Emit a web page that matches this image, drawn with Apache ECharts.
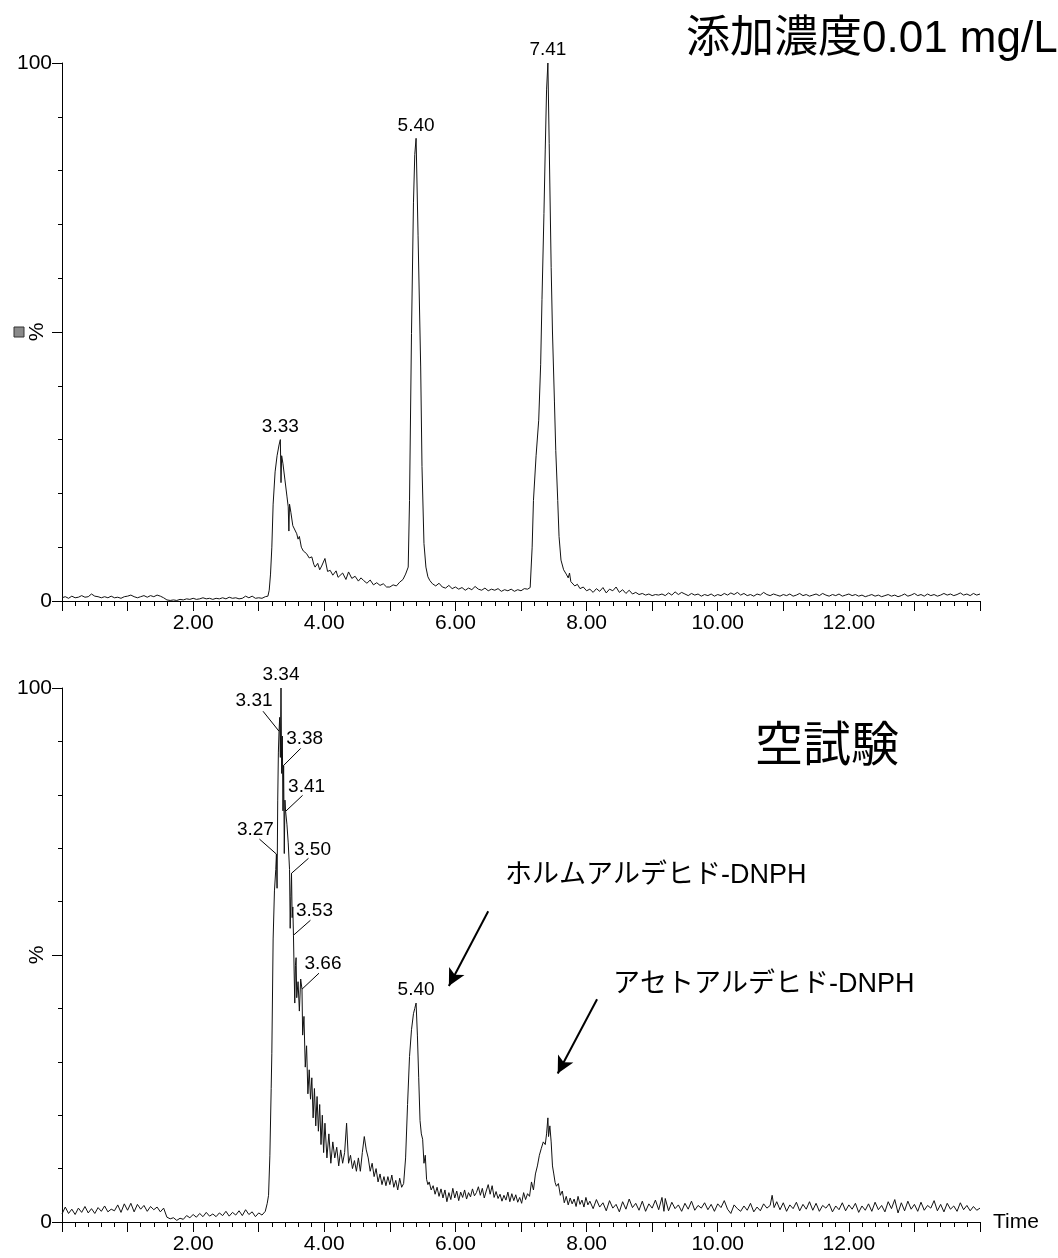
<!DOCTYPE html>
<html><head><meta charset="utf-8">
<script src="https://cdn.jsdelivr.net/npm/echarts@6/dist/echarts.min.js"></script>
<style>html,body{margin:0;padding:0;background:#fff}#c{width:1058px;height:1258px}</style>
</head><body><div id="c"></div>
<script>
// ---------- data (time in min, intensity in %) ----------
const topTrace = [
[0.00,0.6],[0.05,0.8],[0.10,0.5],[0.15,0.9],[0.20,0.6],[0.25,0.7],[0.30,1.0],[0.35,0.7],[0.40,0.8],[0.45,1.3],[0.50,0.9],[0.55,0.8],[0.60,0.6],[0.65,0.8],[0.70,0.6],[0.75,0.9],[0.80,0.6],[0.85,0.7],[0.90,0.5],[0.95,0.8],[1.00,0.9],[1.05,1.1],[1.10,0.8],[1.15,0.6],[1.20,0.8],[1.25,1.0],[1.30,0.7],[1.35,1.0],[1.40,0.8],[1.45,1.1],[1.50,0.9],[1.55,0.6],[1.60,0.2],[1.65,0.1],[1.70,0.2],[1.75,0.1],[1.80,0.3],[1.85,0.2],[1.90,0.4],[1.95,0.3],[2.00,0.5],[2.05,0.3],[2.10,0.4],[2.15,0.6],[2.20,0.4],[2.25,0.5],[2.30,0.3],[2.35,0.5],[2.40,0.4],[2.45,0.6],[2.50,0.4],[2.55,0.7],[2.60,0.5],[2.65,0.6],[2.70,0.4],[2.75,0.5],[2.80,0.9],[2.85,0.6],[2.90,0.9],[2.95,0.5],[3.00,0.6],[3.05,0.5],[3.10,0.8],
[3.14,0.9],[3.16,2],[3.18,5],[3.20,10],[3.22,18],[3.25,24],[3.28,27],[3.31,29],[3.33,30],[3.34,22],[3.35,27],[3.37,25.5],[3.40,22.5],[3.43,19.5],[3.45,17.5],[3.46,13],[3.47,18],[3.49,16.5],[3.52,14],[3.55,13.8],[3.58,12.5],[3.60,11.5],[3.62,12],[3.65,10],[3.68,9.3],[3.70,9],[3.73,8.8],[3.77,8],[3.81,8.2],[3.84,6.8],[3.86,6.3],[3.90,7],[3.93,5.8],[3.96,6.5],[4.01,7.9],[4.05,5.5],[4.09,5.7],[4.13,4.8],[4.18,5.6],[4.21,4.4],[4.24,4.5],[4.28,5.2],[4.33,4.0],[4.37,5.4],[4.42,4.2],[4.47,4.6],[4.52,3.7],[4.56,4.3],[4.60,3.8],[4.65,3.3],[4.70,3.9],[4.75,3.0],[4.80,3.4],[4.85,2.9],[4.90,3.2],[4.95,2.6],[5.00,2.6],[5.05,3.0],[5.10,2.8],[5.15,3.5],[5.20,4.0],[5.24,5.0],[5.28,6.3],[5.30,18.7],[5.33,49.7],[5.36,74],[5.38,83],[5.40,86],[5.43,68],[5.47,43.5],[5.49,25],[5.52,10.7],[5.55,6.3],[5.58,4.5],[5.61,3.8],[5.65,3.2],[5.70,2.8],[5.75,3.3],[5.80,2.6],[5.85,2.4],[5.90,2.9],[5.95,2.3],[6.00,2.6],[6.05,2.2],[6.10,2.5],[6.15,2.0],[6.20,2.4],[6.25,2.1],[6.30,2.7],[6.35,2.2],[6.40,2.0],[6.45,2.4],[6.50,1.9],[6.55,2.2],[6.60,2.0],[6.65,2.3],[6.70,1.8],[6.75,2.1],[6.80,1.9],[6.85,2.2],[6.90,1.8],[6.95,2.1],[7.00,1.9],[7.05,2.3],[7.10,2.2],
[7.14,2.5],[7.17,10],[7.19,18.7],[7.23,27],[7.27,33.6],[7.30,44],[7.32,56],[7.35,72],[7.37,84],[7.39,95],[7.41,100],[7.43,85],[7.46,62],[7.48,50],[7.51,37],[7.53,28],[7.56,18.7],[7.58,12],[7.61,7.6],[7.65,5.8],[7.69,5],[7.72,4.3],[7.74,5.2],[7.76,3.6],[7.79,3.8],[7.82,2.8],[7.86,3.1],[7.90,2.3],[7.95,2.6],[8.00,1.9],[8.05,2.2],
[8.10,1.6],[8.15,2.3],[8.20,1.8],[8.25,2.5],[8.30,1.5],[8.35,2.2],[8.40,1.9],[8.45,2.6],[8.50,1.6],[8.55,2.1],[8.60,1.4],[8.65,2.0],[8.70,1.3],[8.75,1.6],[8.80,1.2],[8.85,1.4],[8.90,1.1],[8.95,1.3],[9.00,1.0],[9.05,1.2],[9.10,1.1],[9.15,1.3],[9.20,1.0],[9.25,1.5],[9.30,1.1],[9.35,1.7],[9.40,1.2],[9.45,1.6],[9.50,1.3],[9.55,1.0],[9.60,1.4],[9.65,1.1],[9.70,1.3],[9.75,0.9],[9.80,1.2],[9.85,1.0],[9.90,1.3],[9.95,0.9],[10.00,1.2],[10.05,1.0],[10.10,1.4],[10.15,1.1],[10.20,1.5],[10.25,1.2],[10.30,1.6],[10.35,1.1],[10.40,1.4],[10.45,1.0],[10.50,1.2],[10.55,0.9],[10.60,1.3],[10.65,1.1],[10.70,1.6],[10.75,1.2],[10.80,1.0],[10.85,1.3],[10.90,1.1],[10.95,0.9],[11.00,1.2],[11.05,1.0],[11.10,1.3],[11.15,0.9],[11.20,1.1],[11.25,1.4],[11.30,1.0],[11.35,1.2],[11.40,0.9],[11.45,1.1],[11.50,1.3],[11.55,1.0],[11.60,1.4],[11.65,1.1],[11.70,0.9],[11.75,1.2],[11.80,1.0],[11.85,1.3],[11.90,0.9],[11.95,1.1],[12.00,1.3],[12.05,1.0],[12.10,1.2],[12.15,0.9],[12.20,1.1],[12.25,0.8],[12.30,1.0],[12.35,1.2],[12.40,0.9],[12.45,1.1],[12.50,0.8],[12.55,1.0],[12.60,1.2],[12.65,0.9],[12.70,1.1],[12.75,0.8],[12.80,1.0],[12.85,1.3],[12.90,0.9],[12.95,1.1],[13.00,1.4],[13.05,1.0],[13.10,1.2],[13.15,0.9],[13.20,1.3],[13.25,1.0],[13.30,1.2],[13.35,0.9],[13.40,1.1],[13.45,1.4],[13.50,1.1],[13.55,1.3],[13.60,1.0],[13.65,1.2],[13.70,1.5],[13.75,1.1],[13.80,1.3],[13.85,1.0],[13.90,1.4],[13.95,1.1],[14.00,1.3]
];

const bottomTrace = [
[0.00,1.5],[0.05,2.8],[0.10,1.6],[0.15,2.4],[0.20,1.4],[0.25,2.6],[0.30,1.8],[0.35,2.9],[0.40,1.7],[0.45,2.5],[0.50,1.6],[0.55,2.7],[0.60,2.0],[0.65,3.0],[0.70,1.9],[0.75,2.4],[0.80,2.1],[0.85,3.2],[0.90,1.8],[0.95,3.4],[1.00,2.2],[1.05,3.5],[1.10,1.9],[1.15,3.3],[1.20,2.4],[1.25,3.1],[1.30,2.0],[1.35,2.9],[1.40,2.3],[1.45,2.8],[1.50,1.9],[1.55,2.6],[1.60,0.9],[1.65,0.6],[1.70,0.8],[1.75,0.3],[1.80,0.7],[1.85,0.5],[1.90,1.2],[1.95,0.8],[2.00,1.4],[2.05,0.9],[2.10,1.6],[2.15,1.0],[2.20,1.8],[2.25,1.1],[2.30,1.5],[2.35,1.0],[2.40,1.7],[2.45,1.2],[2.50,2.0],[2.55,1.1],[2.60,1.8],[2.65,1.3],[2.70,2.1],[2.75,1.2],[2.80,2.3],[2.85,1.4],[2.90,1.9],[2.95,1.0],[3.00,1.7],[3.05,1.3],[3.10,2.0],
[3.13,3.5],[3.15,5],[3.17,12.4],[3.19,25],[3.20,31.6],[3.22,53],[3.24,62],[3.26,66],[3.27,68.9],[3.28,62.5],[3.29,79],[3.30,88],[3.31,91.9],[3.32,94.5],[3.33,87],[3.34,100],[3.35,84],[3.36,91],[3.37,77],[3.38,85.5],[3.39,69],[3.40,79],[3.41,76.9],[3.43,74.5],[3.45,71],[3.47,66],[3.48,55],[3.49,61],[3.50,65.3],[3.51,57],[3.52,59],[3.53,53.7],[3.54,47],[3.55,41],[3.56,48],[3.57,49.5],[3.58,42],[3.60,45],[3.62,39.5],[3.64,45.5],[3.66,43.6],[3.67,35],[3.69,38.5],[3.71,29],[3.73,33],[3.75,24],[3.77,28.5],[3.79,23],[3.81,27],[3.83,19.5],[3.85,25],[3.87,18],[3.89,23.5],[3.91,17],[3.93,22],[3.95,14.5],[3.97,20],[3.99,13],[4.01,18.5],[4.04,12],[4.07,16.5],[4.10,11],[4.13,15],[4.16,12],[4.19,14],[4.22,10.5],[4.25,13.5],[4.28,11],[4.31,13],[4.34,18.5],[4.37,11],[4.40,12.5],[4.43,10],[4.46,11.5],[4.49,9.5],[4.52,12],[4.55,9.5],[4.58,13],[4.61,16],[4.64,13.5],[4.67,12],[4.70,9.5],[4.73,11],[4.76,8.5],[4.79,10],[4.82,7.5],[4.85,9],[4.88,7],[4.91,8.5],[4.94,6.8],[4.97,8.5],[5.00,7],[5.03,8.8],[5.06,6.5],[5.09,7.8],[5.12,6],[5.15,8.2],[5.18,6.5],[5.21,7.2],
[5.24,12],[5.27,22],[5.30,31],[5.33,36],[5.36,39],[5.38,40],[5.40,41],[5.42,35],[5.44,27],[5.46,19],[5.48,16.5],[5.50,15.5],[5.52,11],[5.54,12.5],[5.56,8],[5.58,7],
[5.60,7.5],[5.63,6],[5.66,6.8],[5.69,5.2],[5.72,6.5],[5.75,4.8],[5.78,6.2],[5.81,4.5],[5.84,6],[5.87,3.8],[5.90,5.5],[5.93,4.2],[5.96,6.3],[5.99,4.5],[6.02,5.8],[6.05,4.0],[6.08,5.6],[6.11,4.6],[6.14,6.0],[6.17,4.3],[6.20,5.5],[6.23,4.7],[6.26,6.2],[6.29,4.9],[6.32,5.5],[6.35,6.6],[6.38,5.0],[6.41,6.3],[6.44,4.5],[6.47,5.8],[6.50,7.0],[6.53,5.2],[6.56,6.8],[6.59,4.6],[6.62,5.7],[6.65,4.4],[6.68,5.2],[6.71,3.9],[6.74,5.0],[6.77,4.1],[6.80,5.6],[6.83,3.8],[6.86,5.3],[6.89,4.0],[6.92,5.1],[6.95,3.7],[6.98,4.6],[7.01,3.5],[7.04,5.5],[7.07,4.2],[7.10,5.3],[7.13,4.8],
[7.16,7.5],[7.19,6],[7.22,9],[7.25,10.5],[7.28,12.5],[7.31,13.8],[7.34,15],[7.37,14.5],[7.39,16.5],[7.41,19.5],[7.42,16],[7.44,18],[7.46,15],[7.48,10.5],[7.50,9],[7.52,7.4],[7.54,6.7],[7.57,7.2],[7.60,5.0],[7.63,5.8],[7.66,3.6],[7.69,4.8],[7.72,3.2],[7.75,4.5],[7.78,3.4],[7.81,4.3],[7.84,2.9],[7.87,4.8],[7.90,3.3],[7.93,4.1],[7.96,2.8],[7.99,4.6],[8.02,3.2],
[8.05,3.9],[8.10,2.5],[8.15,4.2],[8.20,2.8],[8.25,3.6],[8.30,2.1],[8.35,4.0],[8.40,2.6],[8.45,3.3],[8.50,1.9],[8.55,3.8],[8.60,2.4],[8.65,4.3],[8.70,2.7],[8.75,3.5],[8.80,2.2],[8.85,3.9],[8.90,2.0],[8.95,3.4],[9.00,2.6],[9.05,4.1],[9.10,2.3],[9.15,4.6],[9.18,2.0],[9.20,4.4],[9.25,2.1],[9.30,3.7],[9.35,2.5],[9.40,3.2],[9.45,2.0],[9.50,3.5],[9.55,2.4],[9.60,3.9],[9.65,2.2],[9.70,3.1],[9.75,2.6],[9.80,3.6],[9.85,2.3],[9.90,3.3],[9.95,2.0],[10.00,3.4],[10.05,2.7],[10.10,4.0],[10.15,2.4],[10.20,1.6],[10.25,3.2],[10.30,2.5],[10.35,2.0],[10.40,3.0],[10.45,2.2],[10.50,3.5],[10.55,1.9],[10.60,2.8],[10.65,2.1],[10.70,3.4],[10.75,2.6],[10.80,3.1],[10.83,5.0],[10.86,2.7],[10.90,3.8],[10.95,2.3],[11.00,3.6],[11.05,2.0],[11.10,3.2],[11.15,2.5],[11.20,3.7],[11.25,2.1],[11.30,3.3],[11.35,2.4],[11.40,3.8],[11.45,2.2],[11.50,3.5],[11.55,2.0],[11.60,3.1],[11.65,2.6],[11.70,3.4],[11.75,1.9],[11.80,3.0],[11.85,2.3],[11.90,3.6],[11.95,2.1],[12.00,3.2],[12.05,2.4],[12.10,3.5],[12.15,1.8],[12.20,3.0],[12.25,2.2],[12.30,3.4],[12.35,2.0],[12.40,3.7],[12.45,2.3],[12.50,3.1],[12.55,1.9],[12.60,3.8],[12.65,2.5],[12.70,4.2],[12.75,1.7],[12.80,3.6],[12.85,2.1],[12.90,3.9],[12.95,2.4],[13.00,3.3],[13.05,2.0],[13.10,3.7],[13.15,2.2],[13.20,3.1],[13.25,2.6],[13.30,4.0],[13.35,2.1],[13.40,3.3],[13.45,1.9],[13.50,3.5],[13.55,2.4],[13.60,3.0],[13.65,2.0],[13.70,3.6],[13.75,2.3],[13.80,3.1],[13.85,2.1],[13.90,2.9],[13.95,2.2],[14.00,2.6]
];

const topPeakLabels = ['3.33','5.40','7.41'];
const bottomPeakLabels = ['3.27','3.31','3.34','3.38','3.41','3.50','3.53','3.66','5.40'];
const xTickLabels = ['2.00','4.00','6.00','8.00','10.00','12.00'];
const yTickLabels = ['0','100'];

// ---------- label placement (pixel offsets from the peak point) ----------
const labelOffsets = {
  '3.27': {lead:[-17,-15], text:[-21,-24]},
  '3.31': {lead:[-16,-20], text:[-25,-30]},
  '3.38': {lead:[17,-17],  text:[21,-27]},
  '3.41': {lead:[17,-16],  text:[21,-25]},
  '3.50': {lead:[17,-15],  text:[21,-24]},
  '3.53': {lead:[17,-15],  text:[21,-24]},
  '3.66': {lead:[17,-16],  text:[21,-25]}
};
const FONT = '"Liberation Sans", "Noto Sans CJK JP", sans-serif';

function labelSeries(idx, labels, trace) {
  const data = labels.map(l => {
    const t = parseFloat(l);
    const pt = trace.find(p => Math.abs(p[0] - t) < 1e-6);
    return [t, pt[1]];
  });
  return {
    type: 'custom', xAxisIndex: idx, yAxisIndex: idx, data, clip: false, silent: true, z: 5,
    renderItem(params, api) {
      const p = api.coord([api.value(0), api.value(1)]);
      const lab = labels[params.dataIndex];
      const o = labelOffsets[lab] || {text: [0, -13]};
      const children = [];
      if (o.lead) children.push({type: 'line', shape: {x1: p[0] + o.lead[0], y1: p[1] + o.lead[1], x2: p[0], y2: p[1]}, style: {stroke: '#000', lineWidth: 1}});
      children.push({type: 'text', x: p[0] + o.text[0], y: p[1] + o.text[1],
        style: {text: lab, fill: '#000', font: '19px ' + FONT, align: 'center', verticalAlign: 'middle'}});
      return {type: 'group', children};
    }
  };
}

function xAxis(idx, withName) {
  return {
    type: 'value', gridIndex: idx, min: 0, max: 14, interval: 1,
    axisLine: {show: true, onZero: false, lineStyle: {color: '#000', width: 1}},
    axisTick: {show: true, length: 10, lineStyle: {color: '#000'}},
    minorTick: {show: true, splitNumber: 5, length: 5, lineStyle: {color: '#000'}},
    splitLine: {show: false},
    axisLabel: {color: '#000', fontSize: 21, fontFamily: FONT, margin: 12,
      formatter: v => xTickLabels.includes(v.toFixed(2)) ? v.toFixed(2) : ''},
    name: withName ? 'Time' : '', nameLocation: 'end', nameGap: 13, nameMoveOverlap: false,
    nameTextStyle: {color: '#000', fontSize: 21, fontFamily: FONT, verticalAlign: 'middle'}
  };
}
function yAxis(idx) {
  return {
    type: 'value', gridIndex: idx, min: 0, max: 100, interval: 50,
    axisLine: {show: true, lineStyle: {color: '#000', width: 1}},
    axisTick: {show: true, length: 10, lineStyle: {color: '#000'}},
    minorTick: {show: true, splitNumber: 5, length: 4, lineStyle: {color: '#000'}},
    splitLine: {show: false},
    axisLabel: {color: '#000', fontSize: 21, fontFamily: FONT, margin: 10,
      formatter: v => yTickLabels.includes(String(v)) ? String(v) : ''},
    name: '%', nameLocation: 'middle', nameRotate: 90, nameGap: 14, nameMoveOverlap: false,
    nameTextStyle: {color: '#000', fontSize: 21, fontFamily: FONT}
  };
}
function trace(idx, data) {
  return {type: 'line', xAxisIndex: idx, yAxisIndex: idx, data, showSymbol: false, symbol: 'none',
    lineStyle: {color: '#111', width: 1}, z: 3, animation: false};
}

const chart = echarts.init(document.getElementById('c'), null, {renderer: 'canvas'});
const bottomLine = trace(1, bottomTrace);
bottomLine.markLine = {
  silent: true, symbol: ['none', 'arrow'], symbolSize: [13, 17], label: {show: false},
  lineStyle: {color: '#000', width: 2, type: 'solid'},
  data: [
    [{coord: [6.50, 58.2]}, {coord: [5.90, 44.2]}],
    [{coord: [8.16, 41.7]}, {coord: [7.56, 27.8]}]
  ]
};
chart.setOption({
  animation: false,
  backgroundColor: '#fff',
  grid: [
    {left: 62, top: 63, width: 918, height: 538, containLabel: false, outerBoundsMode: 'none'},
    {left: 62, top: 688, width: 918, height: 534, containLabel: false, outerBoundsMode: 'none'}
  ],
  xAxis: [xAxis(0, false), xAxis(1, true)],
  yAxis: [yAxis(0), yAxis(1)],
  series: [trace(0, topTrace), bottomLine, labelSeries(0, topPeakLabels, topTrace), labelSeries(1, bottomPeakLabels, bottomTrace)],
  graphic: [
    {type: 'text', x: 686, y: 40, style: {text: '添加濃度0.01 mg/L', font: '44px ' + FONT, fill: '#000', verticalAlign: 'middle'}},
    {type: 'text', x: 755, y: 748, style: {text: '空試験', font: '48px ' + FONT, fill: '#000', verticalAlign: 'middle'}},
    {type: 'text', x: 505, y: 876, style: {text: 'ホルムアルデヒド-DNPH', font: '27px ' + FONT, fill: '#000', verticalAlign: 'middle'}},
    {type: 'text', x: 613, y: 985, style: {text: 'アセトアルデヒド-DNPH', font: '27px ' + FONT, fill: '#000', verticalAlign: 'middle'}},
    {type: 'rect', shape: {x: 14, y: 327, width: 10, height: 10}, style: {fill: '#8a8a8a', stroke: '#333', lineWidth: 1}}
  ]
});
</script></body></html>
